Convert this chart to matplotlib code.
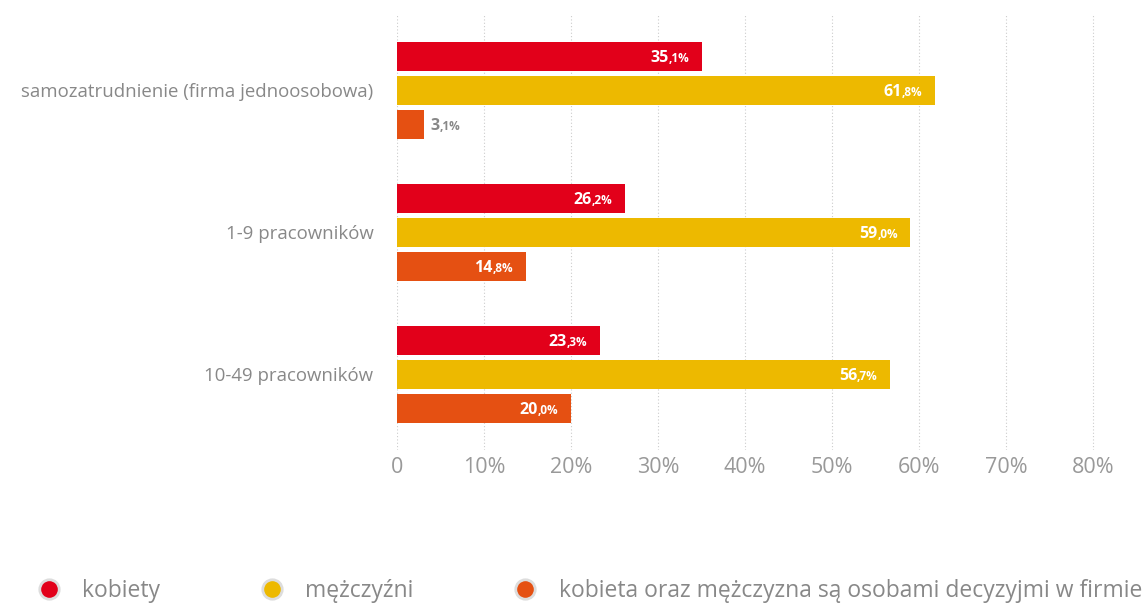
import matplotlib
matplotlib.use('Agg')
import matplotlib.pyplot as plt
import numpy as np
from matplotlib.lines import Line2D

plt.rcParams['font.family'] = ['Open Sans', 'DejaVu Sans']

categories = ['samozatrudnienie (firma jednoosobowa)', '1-9 pracowników', '10-49 pracowników']
kobiety = [35.1, 26.2, 23.3]
mezczyzni = [61.8, 59.0, 56.7]
oboje = [3.1, 14.8, 20.0]
series_names = ['kobiety', 'mężczyźni', 'kobieta oraz mężczyzna są osobami decyzyjmi w firmie']
colors = ['#E2001A', '#EDB900', '#E55012']
xticks = [0, 10, 20, 30, 40, 50, 60, 70, 80]
xtick_labels = ['0', '10%', '20%', '30%', '40%', '50%', '60%', '70%', '80%']

fig = plt.figure(figsize=(11.47, 6.05), dpi=100)
ax = fig.add_axes([0.346, 0.256, 0.654, 0.719])

y = np.arange(len(categories))
h = 0.204
off = 0.239
series = [kobiety, mezczyzni, oboje]
for i, (vals, col) in enumerate(zip(series, colors)):
    ypos = y + (i - 1) * off
    ax.barh(ypos, vals, height=h, color=col, zorder=2)
    for yy, v in zip(ypos, vals):
        whole, dec = ('%.1f' % v).split('.')
        small = ',' + dec + '%'
        if v > 8:
            # etykieta w środku paska
            c = 'white'
            t = ax.annotate(small, xy=(v, yy), xytext=(-9, -4.2), textcoords='offset points',
                            ha='right', va='baseline', fontsize=8.5, fontweight='bold', color=c, zorder=3)
            ax.annotate(whole, xy=(0, yy), xycoords=(t, 'data'), xytext=(0, -4.2), textcoords='offset points',
                        ha='right', va='baseline', fontsize=11.5, fontweight='bold', color=c, zorder=3,
                        annotation_clip=False)
        else:
            # za krótki pasek - etykieta obok
            c = '#888888'
            t = ax.annotate(whole, xy=(v, yy), xytext=(5, -4.2), textcoords='offset points',
                            ha='left', va='baseline', fontsize=11.5, fontweight='bold', color=c, zorder=3)
            ax.annotate(small, xy=(1, yy), xycoords=(t, 'data'), xytext=(0, -4.2), textcoords='offset points',
                        ha='left', va='baseline', fontsize=8.5, fontweight='bold', color=c, zorder=3,
                        annotation_clip=False)

ax.set_xlim(0, 86.2)
ax.set_ylim(2.535, -0.528)
ax.set_yticks(y)
ax.set_yticklabels(categories, fontsize=13.4, color='#888888')
ax.set_xticks(xticks)
ax.set_xticklabels(xtick_labels, fontsize=15.5, color='#999999')
ax.tick_params(axis='y', length=0, pad=17)
ax.tick_params(axis='x', length=0, pad=5)
for s in ax.spines.values():
    s.set_visible(False)
ax.grid(axis='x', color='#cccccc', linestyle=(0, (1, 2)), linewidth=0.8, zorder=0)
ax.set_axisbelow(True)

handles = [Line2D([], [], linestyle='none', marker='o', markersize=14,
                  markerfacecolor=c, markeredgecolor='#dddddd', markeredgewidth=2)
           for c in colors]
fig.legend(handles, series_names, loc='center left', bbox_to_anchor=(0.0125, 0.023), ncol=3,
           frameon=False, fontsize=16.5, labelcolor='#888888', columnspacing=4.27,
           handletextpad=0.86, handlelength=1.2)

fig.savefig('out.png', dpi=100)
